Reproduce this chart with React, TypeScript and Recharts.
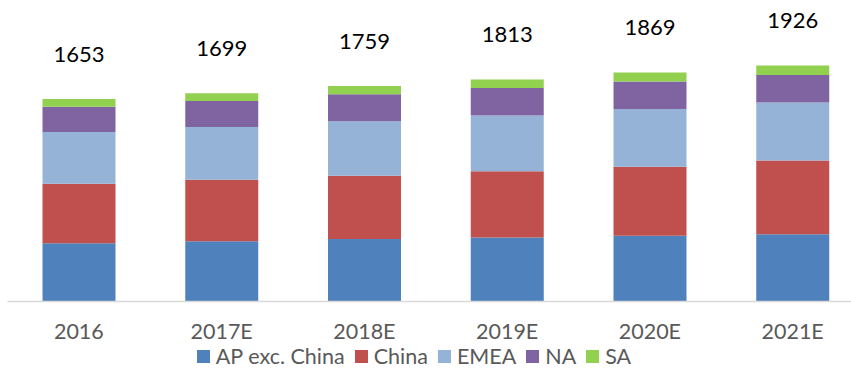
import { Bar, BarChart, LabelList, Legend, XAxis, YAxis } from "recharts";

const years = ["2016", "2017E", "2018E", "2019E", "2020E", "2021E"];
const apExChina = [475, 491, 510, 523, 536, 548];
const china = [487, 503, 516, 540, 565, 604];
const emea = [421, 430, 445, 456, 470, 472];
const na = [207, 212, 220, 223, 225, 225];
const sa = [63, 63, 68, 71, 73, 77];
const totals = [1653, 1699, 1759, 1813, 1869, 1926];

const series = [
    { key: "ap", name: "AP exc. China", color: "#4F81BD" },
    { key: "china", name: "China", color: "#C0504D" },
    { key: "emea", name: "EMEA", color: "#95B3D7" },
    { key: "na", name: "NA", color: "#8064A2" },
    { key: "sa", name: "SA", color: "#92D050" },
];

const data = years.map((year, i) => ({
    year,
    ap: apExChina[i],
    china: china[i],
    emea: emea[i],
    na: na[i],
    sa: sa[i],
    total: totals[i],
}));

const FONT = "Lato, 'Open Sans', sans-serif";

function TotalLabel(props: any) {
    const { x, y, width, value } = props;
    return (
        <text
            x={x + width / 2}
            y={y - 46}
            textAnchor="middle"
            dominantBaseline="central"
            fontFamily={FONT}
            fontSize={22}
            fill="#000"
        >
            {value}
        </text>
    );
}

function LegendBox() {
    return (
        <div
            style={{
                width: 838,
                height: 30,
                boxSizing: "border-box",
                paddingTop: 6,
                display: "flex",
                justifyContent: "center",
                alignItems: "center",
                fontFamily: FONT,
                fontSize: 21.5,
                lineHeight: "20px",
                color: "#595959",
            }}
        >
            {series.map((s) => (
                <div key={s.key} style={{ display: "flex", alignItems: "center", marginRight: 10 }}>
                    <span style={{ width: 13, height: 13, background: s.color, marginRight: 6 }} />
                    <span>{s.name}</span>
                </div>
            ))}
        </div>
    );
}

export default function App() {
    return (
        <div style={{ position: "absolute", left: 0, top: 0, width: 851, height: 368, overflow: "hidden", background: "#fff" }}>
            <BarChart
                width={864}
                height={368}
                data={data}
                margin={{ top: 7.5, right: 0, bottom: 0, left: 7.5 }}
                barSize={73}
            >
                <XAxis
                    dataKey="year"
                    height={36.5}
                    axisLine={{ stroke: "#D9D9D9", strokeWidth: 1.5 }}
                    tickLine={false}
                    tickMargin={16.5}
                    tick={{ fill: "#595959", fontSize: 21.5, fontFamily: FONT }}
                    interval={0}
                />
                <YAxis hide domain={[0, 2400]} />
                <Legend
                    verticalAlign="bottom"
                    content={() => <LegendBox />}
                    wrapperStyle={{ left: 0, width: 838, height: 30 }}
                />
                {series.map((s) => (
                    <Bar
                        key={s.key}
                        dataKey={s.key}
                        name={s.name}
                        stackId="a"
                        fill={s.color}
                        isAnimationActive={false}
                    >
                        {s.key === "sa" && <LabelList dataKey="total" content={TotalLabel} />}
                    </Bar>
                ))}
            </BarChart>
        </div>
    );
}
